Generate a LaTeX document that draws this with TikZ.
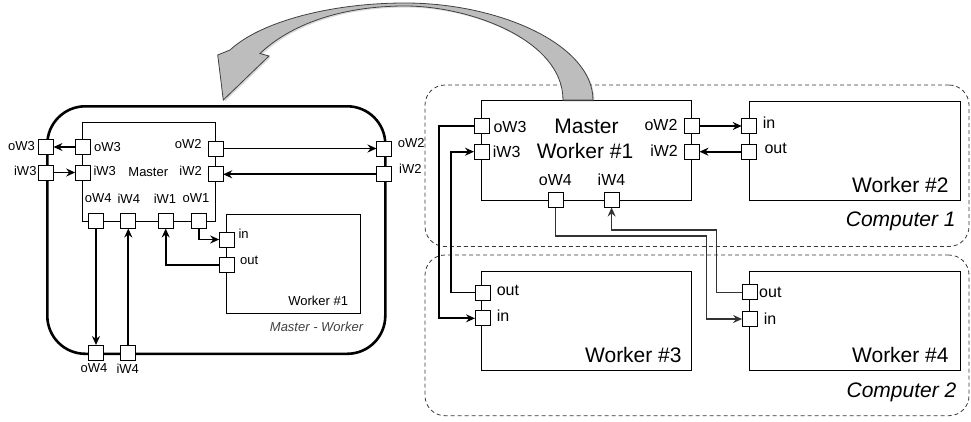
\documentclass[tikz,border=0pt]{standalone}
\usepackage{fontspec}
\setmainfont{Liberation Sans}
\usetikzlibrary{arrows.meta,shadows}
\begin{document}
\begin{tikzpicture}[x=1pt,y=-1pt,
  port/.style={draw=black, fill=white, line width=0.8pt, minimum size=15pt, inner sep=0pt, outer sep=0pt},
  box/.style={draw=black, line width=0.8pt, inner sep=0pt, outer sep=0pt, anchor=north west},
  conn/.style={line width=1.8pt, -{Stealth[length=9pt,width=8pt,inset=3pt]}},
  thinconn/.style={line width=1.2pt, draw=black!80, -{Stealth[length=9pt,width=8pt,inset=3pt]}},
  sl/.style={font=\fontsize{13}{15}\selectfont, inner sep=0pt},
  ml/.style={font=\fontsize{16}{18}\selectfont, inner sep=0pt},
  bl/.style={font=\fontsize{21}{24}\selectfont, inner sep=0pt},
  comp/.style={draw=black!78, dash pattern=on 4pt off 3pt, line width=0.8pt, rounded corners=20pt, inner sep=0pt, outer sep=0pt, anchor=north west},
]
\useasboundingbox (0,0) rectangle (971,421);

% ---------- left: Master - Worker ----------
\node[draw=black, line width=2.6pt, rounded corners=38pt, minimum width=338pt, minimum height=247.5pt, inner sep=0pt, anchor=north west] (mw) at (46,105) {};
\node[box, minimum width=133pt, minimum height=99pt] (lmaster) at (82.7,122) {};
\node[box, minimum width=133.3pt, minimum height=98.8pt] (lw1) at (226.7,214.5) {};

\node[port] (ooW3) at (46,147) {};
\node[port] (ooiW3) at (46,172.5) {};
\node[port] (ioW3) at (82.7,147) {};
\node[port] (iiW3) at (82.7,172.5) {};
\node[port] (ioW2) at (215.7,148.5) {};
\node[port] (iiW2) at (215.7,174.3) {};
\node[port] (ooW2) at (384,148.5) {};
\node[port] (oiW2) at (384,174.3) {};
\node[port] (ioW4) at (96,221) {};
\node[port] (iiW4) at (128.3,221) {};
\node[port] (iiW1) at (165.7,221) {};
\node[port] (ioW1) at (198.7,221) {};
\node[port] (ooW4) at (96,352.5) {};
\node[port] (oiW4) at (128.3,352.5) {};
\node[port] (lin) at (226.7,239.5) {};
\node[port] (lout) at (226.7,264.8) {};

\draw[conn] (ioW3) -- (ooW3);
\draw[conn] (ooiW3) -- (iiW3);
\draw[conn] (ioW2) -- (ooW2);
\draw[conn] (oiW2) -- (iiW2);
\draw[conn] (ioW1) |- (lin);
\draw[conn] (lout) -| (iiW1);
\draw[conn] (ioW4) -- (ooW4);
\draw[conn] (oiW4) -- (iiW4);

\node[sl, anchor=east] at (35,146) {oW3};
\node[sl, anchor=east] at (36.7,170.5) {iW3};
\node[sl, anchor=west] at (94,146.7) {oW3};
\node[sl, anchor=west] at (93.3,170.7) {iW3};
\node[sl] at (148.3,171.7) {Master};
\node[sl, anchor=east] at (201.7,144) {oW2};
\node[sl, anchor=east] at (202,170.7) {iW2};
\node[sl, anchor=west] at (397.7,143.3) {oW2};
\node[sl, anchor=west] at (399,169) {iW2};
\node[sl] at (98.3,198.3) {oW4};
\node[sl] at (128.8,198.3) {iW4};
\node[sl] at (165,198.3) {iW1};
\node[sl] at (196,198.3) {oW1};
\node[sl, anchor=west] at (238.3,234) {in};
\node[sl, anchor=west] at (240,260.7) {out};
\node[sl, anchor=east] at (348.3,300.7) {Worker \#1};
\node[sl, anchor=east, font=\fontsize{13}{15}\selectfont\itshape, text=black!75] at (363.3,327.3) {Master - Worker};
\node[sl] at (94,368.3) {oW4};
\node[sl] at (127.7,368.3) {iW4};

% ---------- right: computers ----------
\node[comp, minimum width=544pt, minimum height=161.5pt] (c1) at (425,85) {};
\node[comp, minimum width=544pt, minimum height=160.7pt] (c2) at (425,255) {};

\node[box, minimum width=210.1pt, minimum height=99.3pt] (rmaster) at (481.5,100.7) {};
\node[box, minimum width=210.8pt, minimum height=99pt] (w2) at (749.2,101) {};
\node[box, minimum width=210.1pt, minimum height=98.3pt] (w3) at (481.5,271.7) {};
\node[box, minimum width=210.8pt, minimum height=98.3pt] (w4) at (749.2,271.7) {};

\node[port] (roW3) at (481.5,126) {};
\node[port] (riW3) at (481.5,151.7) {};
\node[port] (roW2) at (692,126) {};
\node[port] (riW2) at (692,151.7) {};
\node[port] (w2in) at (749.2,126) {};
\node[port] (w2out) at (749.2,151.7) {};
\node[port] (roW4) at (555.8,200) {};
\node[port] (riW4) at (611.6,200) {};
\node[port] (w3out) at (482.5,292.5) {};
\node[port] (w3in) at (482.5,318.3) {};
\node[port] (w4out) at (749.6,292.3) {};
\node[port] (w4in) at (749.6,319) {};

\coordinate (b1) at (439.3,220);
\coordinate (b2) at (451,220);
\coordinate (b3) at (706.7,236);
\coordinate (b4) at (716.7,230);

\draw[conn] (roW2) -- (w2in);
\draw[conn] (w2out) -- (riW2);
\draw[conn] (roW3) -| (b1) |- (w3in);
\draw[conn] (w3out) -| (b2) |- (riW3);
\draw[thinconn] (roW4) |- (b3) |- (w4in);
\draw[thinconn] (w4out) -| (b4) -| (riW4);

\node[ml, anchor=west] at (493.3,126.5) {oW3};
\node[ml, anchor=west] at (492.7,151.7) {iW3};
\node[bl] at (586.5,126) {Master};
\node[bl] at (585,151) {Worker \#1};
\node[ml, anchor=east] at (677.6,125) {oW2};
\node[ml, anchor=east] at (678,150.7) {iW2};
\node[ml] at (555.3,180) {oW4};
\node[ml] at (611.5,180) {iW4};
\node[ml, anchor=west] at (762.6,122.7) {in};
\node[ml, anchor=west] at (764.3,148.3) {out};
\node[bl, anchor=east] at (948.8,185) {Worker \#2};
\node[bl, anchor=east, font=\fontsize{21}{24}\selectfont\itshape] at (955.8,221.7) {Computer 1};
\node[ml, anchor=west] at (496.6,290) {out};
\node[ml, anchor=west] at (496.6,315.7) {in};
\node[ml, anchor=west] at (759,292.7) {out};
\node[ml, anchor=west] at (763.6,319) {in};
\node[bl, anchor=east] at (681.8,355) {Worker \#3};
\node[bl, anchor=east] at (948.8,355) {Worker \#4};
\node[bl, anchor=east, font=\fontsize{21}{24}\selectfont\itshape] at (956.5,392.7) {Computer 2};

% ---------- big curved arrow ----------
\path[draw=black!75, line width=0.8pt, fill=black!26, drop shadow={opacity=0.3, shadow xshift=1.5pt, shadow yshift=-1.5pt}]
  (593,100) .. controls (593,45) and (500,3) .. (405,3)
  .. controls (330,3) and (260,22) .. (230,50)
  -- (217.7,55) -- (223.3,100) -- (269,56) -- (260,53.5)
  .. controls (290,25) and (340,6) .. (405,6)
  .. controls (470,6) and (563,40) .. (563,100) -- cycle;
\end{tikzpicture}
\end{document}
